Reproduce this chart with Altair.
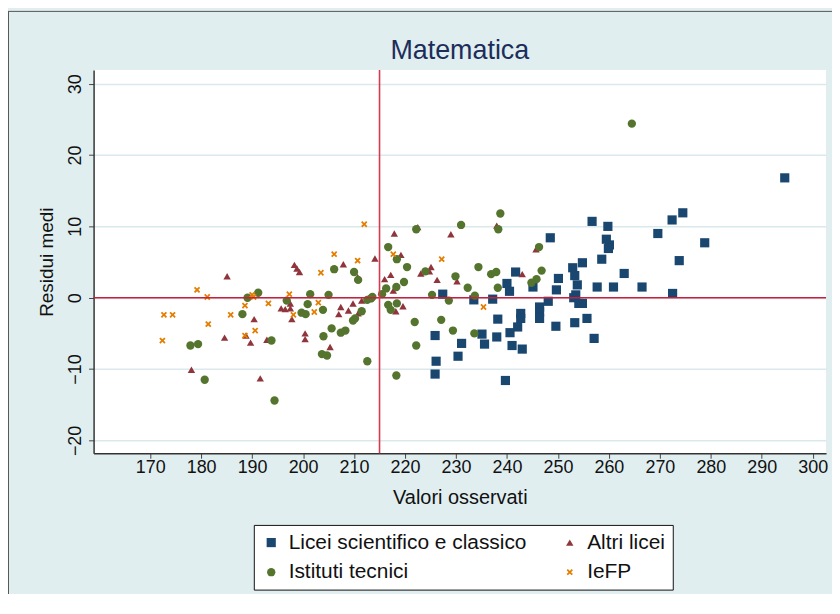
import altair as alt
import pandas as pd

title_text = ["Matematica"]
groups = ["Licei scientifico e classico", "Altri licei", "Istituti tecnici", "IeFP"]
legend_order = ["Licei scientifico e classico", "Istituti tecnici", "Altri licei", "IeFP"]
colors = {"Licei scientifico e classico": "#1a476f", "Altri licei": "#90353b",
          "Istituti tecnici": "#55752f", "IeFP": "#e37e00"}
x_shape = "M-1,-0.6L-0.6,-1L0,-0.4L0.6,-1L1,-0.6L0.4,0L1,0.6L0.6,1L0,0.4L-0.6,1L-1,0.6L-0.4,0Z"
shapes = {"Licei scientifico e classico": "square", "Altri licei": "triangle-up",
          "Istituti tecnici": "circle", "IeFP": x_shape}
sizes = {"Licei scientifico e classico": 85, "Altri licei": 82,
         "Istituti tecnici": 40, "IeFP": 52}

licei_x = [227.4, 225.9, 226.1, 225.9, 231.1, 230.4, 233.5, 235.1, 235.6, 237.2,
           238.2, 238.0, 239.7, 240.0, 240.5, 240.6, 241.0, 241.7, 242.1, 242.7,
           242.7, 243.0, 245.1, 246.4, 246.4, 246.4, 248.1, 248.5, 249.6, 249.7,
           250.1, 252.9, 253.3, 253.8, 253.5, 253.1, 254.1, 254.8, 253.3, 254.8,
           255.7, 256.7, 257.1, 257.7, 258.6, 259.5, 259.8, 260.1, 259.9, 260.9,
           263.0, 266.5, 269.6, 272.4, 272.5, 273.8, 274.5, 278.8, 294.5]
licei_y = [0.5, -5.3, -8.9, -10.7, -6.4, -8.2, -0.3, -5.1, -6.5, -0.2,
           -3.0, -5.5, -11.6, 2.0, 0.9, -4.9, -6.7, 3.6, -4.1, -2.2,
           -2.9, -7.2, 1.5, -1.3, -2.0, -2.9, -0.5, 8.4, -4.0, 1.1,
           2.7, 4.2, 3.1, 1.8, 0.4, 0.0, -0.8, -0.8, -3.5, 4.9,
           -2.9, 10.7, -5.7, 1.5, 5.4, 8.2, 10.0, 7.4, 6.9, 1.5,
           3.4, 1.5, 9.0, 10.9, 0.6, 5.2, 11.9, 7.7, 16.8]

altri_x = [185.1, 198.3, 198.8, 199.3, 207.9, 214.1, 210.7, 216.0, 190.4, 184.6,
           188.8, 189.7, 192.9, 195.7, 196.5, 197.5, 197.5, 197.8, 200.4, 200.4,
           205.3, 207.4, 207.0, 208.9, 209.8, 210.8, 211.5, 178.1, 191.6, 217.9,
           222.5, 229.0, 238.0, 219.2, 217.2, 217.7, 225.1, 224.8, 223.1, 226.3,
           230.2, 245.7, 243.0, 219.6, 218.2]
altri_y = [3.0, 4.6, 4.1, 3.6, 4.7, 5.5, 2.9, 2.6, -3.0, -5.6,
           -5.3, -6.3, -5.9, -1.5, -1.6, -0.8, -1.5, -3.0, -5.0, -5.8,
           -6.9, -1.3, -2.3, -1.8, -0.8, -2.2, -0.4, -10.1, -11.3, 9.0,
           9.9, 8.9, 10.1, 6.0, 3.2, 1.0, 4.3, 3.7, 3.4, 2.5,
           2.3, 6.8, 3.3, -1.2, -1.9]

tecnici_x = [206.1, 210.0, 210.8, 191.2, 189.1, 201.4, 205.0, 196.8, 200.9, 199.7,
             200.5, 203.9, 211.5, 210.2, 209.8, 205.6, 207.4, 208.3, 204.0, 203.7,
             204.7, 212.6, 188.1, 193.8, 177.9, 179.4, 180.7, 194.4, 213.3, 212.6,
             213.6, 215.5, 216.3, 216.7, 217.2, 218.4, 216.7, 238.7, 238.3, 231.0,
             222.2, 218.4, 220.4, 224.0, 219.8, 218.3, 229.9, 232.3, 234.4, 236.9,
             237.9, 238.2, 233.7, 246.3, 246.8, 245.8, 244.8, 225.3, 228.6, 221.9,
             227.1, 229.4, 233.6, 222.2, 218.3, 264.5]
tecnici_y = [4.0, 3.6, 2.5, 0.7, 0.0, 0.5, 0.4, -0.4, -0.9, -2.1,
             -2.3, -1.7, -1.9, -2.9, -3.2, -4.3, -4.9, -4.6, -5.4, -7.9,
             -8.1, -8.9, -2.3, -6.0, -6.7, -6.5, -11.5, -14.4, -0.1, -0.3,
             0.1, 0.5, 1.3, -1.0, -1.7, -0.8, 7.1, 11.8, 9.6, 10.2,
             9.6, 5.4, 4.3, 3.7, 2.2, 1.5, 3.0, 1.4, 4.3, 3.3,
             3.6, 1.4, 0.3, 7.1, 3.8, 2.6, 2.1, 0.4, -0.4, -3.4,
             -3.1, -4.6, -5.0, -6.7, -10.9, 24.4]

iefp_x = [212.0, 206.1, 210.7, 203.5, 179.2, 181.2, 172.7, 174.4, 185.8, 181.4,
          188.6, 190.0, 190.3, 193.2, 197.3, 203.0, 202.2, 198.1, 172.4, 190.6,
          188.6, 217.7, 227.2, 235.4]
iefp_y = [10.3, 6.1, 5.2, 3.5, 1.1, 0.1, -2.4, -2.4, -2.4, -3.7,
          -1.1, 0.4, 0.1, -0.8, 0.5, -0.7, -2.0, -2.4, -6.0, -4.6,
          -5.3, 6.1, 5.4, -1.3]

x_ticks = list(range(170, 301, 10))
y_ticks = [-20, -10, 0, 10, 20, 30]
x_domain = [158.9, 302.6]
y_domain = [-21.8, 31.9]
ref_x = [215]
ref_y = [0]

frames = []
for i, (g, xs, ys) in enumerate(zip(groups, [licei_x, altri_x, tecnici_x, iefp_x],
                                    [licei_y, altri_y, tecnici_y, iefp_y])):
    frames.append(pd.DataFrame({"x": xs, "y": ys, "gruppo": g, "ord": i}))
df = pd.concat(frames, ignore_index=True)

FONT = "Liberation Sans"

xscale = alt.Scale(domain=x_domain, nice=False, zero=False)
yscale = alt.Scale(domain=y_domain, nice=False, zero=False)

points = alt.Chart(df).mark_point(filled=True, opacity=1, strokeWidth=0).encode(
    x=alt.X("x:Q", scale=xscale,
            axis=alt.Axis(values=x_ticks, title="Valori osservati", grid=False,
                          labelFontSize=18, titleFontSize=20, labelFont=FONT, titleFont=FONT,
                          tickSize=5, tickColor="#444", domainColor="#333", domainWidth=1.5,
                          labelPadding=0, titlePadding=11, labelColor="#111", titleColor="#111",
                          titleFontWeight="normal", labelFlush=False)),
    y=alt.Y("y:Q", scale=yscale,
            axis=alt.Axis(values=y_ticks, title="Residui medi", grid=True,
                          gridColor="#DCE9EC", gridWidth=1.5,
                          labelAngle=270, labelFontSize=18, titleFontSize=19,
                          labelFont=FONT, titleFont=FONT, tickSize=5, tickColor="#444",
                          domainColor="#333", domainWidth=1.5, labelPadding=4,
                          titlePadding=10, labelColor="#111", titleColor="#111",
                          titleFontWeight="normal", labelFlush=False)),
    color=alt.Color("gruppo:N",
                    scale=alt.Scale(domain=legend_order, range=[colors[g] for g in legend_order]),
                    legend=alt.Legend(title=None, orient="none", legendX=161, legendY=457,
                                      columns=2, columnPadding=32, rowPadding=8,
                                      labelFontSize=21, labelFont=FONT, labelColor="#111",
                                      symbolSize=30, labelOffset=7,
                                      strokeColor="#111", fillColor="white", padding=7,
                                      labelLimit=400)),
    shape=alt.Shape("gruppo:N",
                    scale=alt.Scale(domain=legend_order, range=[shapes[g] for g in legend_order])),
    size=alt.Size("gruppo:N",
                  scale=alt.Scale(domain=legend_order, range=[sizes[g] for g in legend_order]),
                  legend=None),
    order=alt.Order("ord:Q"),
)

vline = alt.Chart(pd.DataFrame({"x": ref_x})).mark_rule(color="#d63a52", strokeWidth=1.6).encode(
    x=alt.X("x:Q", scale=xscale))
hline = alt.Chart(pd.DataFrame({"y": ref_y})).mark_rule(color="#c8203c", strokeWidth=1.6).encode(
    y=alt.Y("y:Q", scale=yscale))

frame_top = alt.Chart(pd.DataFrame({"k": [0]})).mark_rule(color="#555", strokeWidth=1).encode(
    x=alt.value(-86), x2=alt.value(742), y=alt.value(-59))
frame_left = alt.Chart(pd.DataFrame({"k": [0]})).mark_rule(color="#555", strokeWidth=1).encode(
    x=alt.value(-85.5), y=alt.value(-59), y2=alt.value(530))

title = alt.Chart(pd.DataFrame({"t": title_text})).mark_text(
    font=FONT, fontSize=27, color="#1c2d5a", align="center", baseline="alphabetic").encode(
    text="t:N", x=alt.value(368), y=alt.value(-11))

chart = alt.layer(points, hline, vline, frame_top, frame_left, title).properties(
    width=736, height=385,
    autosize=alt.AutoSizeParams(type="none"),
    padding={"left": 86, "top": 61, "right": 6, "bottom": 140},
    background="#E0EEF0",
).configure_view(fill="white", stroke=None)

chart.save("out.html", embed_options={"renderer": "svg", "actions": False})
